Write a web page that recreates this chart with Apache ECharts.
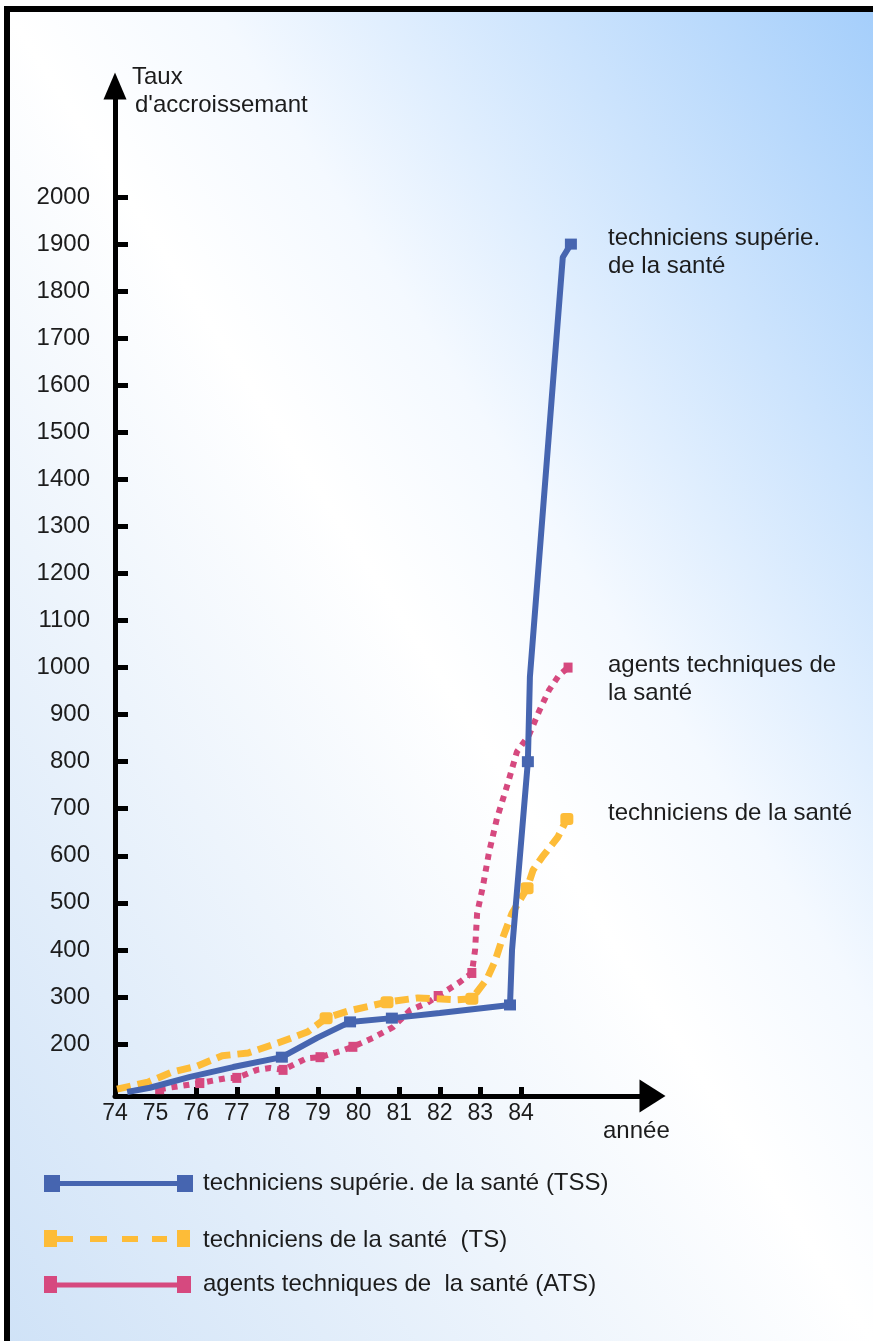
<!DOCTYPE html>
<html>
<head>
<meta charset="utf-8">
<script src="https://cdn.jsdelivr.net/npm/echarts@6/dist/echarts.min.js"></script>
<style>
  html, body { margin: 0; padding: 0; background: #ffffff; }
  #chart { width: 873px; height: 1341px; }
</style>
</head>
<body>
<div id="chart"></div>
<script>
// Axis labels
const yearLabels = [74, 75, 76, 77, 78, 79, 80, 81, 82, 83, 84];
const yearTicks = [76, 77, 78, 79, 80, 81, 82, 83, 84];
const rateTicks = [200, 300, 400, 500, 600, 700, 800, 900, 1000, 1100, 1200,
                   1300, 1400, 1500, 1600, 1700, 1800, 1900, 2000];

// Techniciens supérieurs de la santé (TSS)
const tssYears = [74.3, 74.86, 75.85, 76.91, 78.11, 78.98, 79.79, 80.82, 82.0, 83.73, 83.78, 84.17, 84.22, 85.03, 85.23];
const tssRates = [98, 107, 130, 151, 172, 213, 247, 255, 266, 283, 400, 800, 980, 1872, 1900];
const tssMarked = [4, 6, 7, 9, 11, 14];

// Techniciens de la santé (TS)
const tsYears = [74.05, 74.81, 75.4, 76.02, 76.64, 77.28, 78.01, 78.75, 79.2, 79.74, 80.7, 81.46, 82.42, 82.79, 83.16, 83.36, 83.53, 83.78, 84.15, 84.3, 84.52, 84.91, 85.13];
const tsRates = [104, 119, 140, 153, 175, 181, 202, 226, 255, 270, 289, 298, 294, 296, 338, 376, 421, 478, 531, 570, 597, 640, 678];
const tsMarked = [8, 10, 13, 18, 22];

// Agents techniques de la santé (ATS)
const atsYears = [75.1, 76.09, 76.78, 77.0, 77.5, 77.82, 78.14, 78.73, 79.05, 79.62, 79.86, 80.35, 80.85, 81.27, 81.68, 81.96, 82.5, 82.79, 82.87, 82.92, 83.06, 83.21, 83.41, 83.68, 83.9, 84.2, 84.44, 84.69, 84.94, 85.16];
const atsRates = [104, 117, 128, 128, 145, 149, 145, 170, 172, 187, 194, 213, 236, 272, 287, 302, 332, 351, 400, 478, 534, 606, 680, 755, 821, 857, 906, 952, 984, 1000];
const atsMarked = [0, 1, 3, 6, 8, 10, 15, 17, 29];

const FONT = "'Liberation Sans', Arial, sans-serif";
const INK = '#1c1c1c';
const BLUE = '#4665b0';
const YELLOW = '#fdbc38';
const PINK = '#d6497f';

function buildPoints(years, rates, marked, markSymbol, markSize) {
  return years.map((y, i) => {
    const item = { value: [y, rates[i]] };
    if (marked.indexOf(i) >= 0) {
      item.symbol = markSymbol;
      item.symbolSize = markSize;
    }
    return item;
  });
}

function label(text, x, y) {
  return {
    type: 'text', x: x, y: y, z: 10,
    style: { text: text, fill: INK, font: '24px ' + FONT, verticalAlign: 'middle', align: 'left' }
  };
}

const chart = echarts.init(document.getElementById('chart'), null, { renderer: 'canvas' });

const option = {
  animation: false,
  backgroundColor: new echarts.graphic.LinearGradient(-176.6, 1069.7, 1049.6, 271.3, [
    { offset: 0, color: '#cfe2f7' },
    { offset: 0.5, color: '#ffffff' },
    { offset: 0.62, color: '#f4f9ff' },
    { offset: 1, color: '#a4cefb' }
  ], true),
  grid: {
    left: 115, top: 86, width: 537.5, height: 1010,
    containLabel: false, outerBoundsMode: 'none'
  },
  xAxis: {
    type: 'value', min: 74, max: 87.24,
    axisLine: { show: true, symbol: ['none', 'triangle'], symbolSize: [33, 26],
                lineStyle: { color: '#000', width: 5 } },
    axisTick: { show: true, inside: true, length: 9, customValues: yearTicks,
                lineStyle: { color: '#000', width: 5 } },
    axisLabel: { customValues: yearLabels, margin: 6, color: INK, fontSize: 23, fontFamily: FONT,
                 formatter: v => String(v) },
    splitLine: { show: false }
  },
  yAxis: {
    type: 'value', min: 89.5, max: 2236,
    axisLine: { show: true, symbol: ['none', 'triangle'], symbolSize: [23, 27],
                lineStyle: { color: '#000', width: 5 } },
    axisTick: { show: true, inside: true, length: 13, customValues: rateTicks,
                lineStyle: { color: '#000', width: 5 } },
    axisLabel: { customValues: rateTicks, margin: 25, color: INK, fontSize: 24, fontFamily: FONT,
                 padding: [0, 0, 8, 0], formatter: v => String(v) },
    splitLine: { show: false }
  },
  series: [
    {
      name: 'techniciens supérie. de la santé (TSS)', type: 'line', z: 5,
      symbol: 'none', showSymbol: true,
      lineStyle: { color: BLUE, width: 6 }, itemStyle: { color: BLUE },
      data: buildPoints(tssYears, tssRates, tssMarked, 'rect', [12, 11])
    },
    {
      name: 'techniciens de la santé  (TS)', type: 'line', z: 4,
      symbol: 'none', showSymbol: true,
      lineStyle: { color: YELLOW, width: 7, type: [14, 7] }, itemStyle: { color: YELLOW },
      data: buildPoints(tsYears, tsRates, tsMarked, 'roundRect', [13, 12])
    },
    {
      name: 'agents techniques de  la santé (ATS)', type: 'line', z: 3,
      symbol: 'none', showSymbol: true,
      lineStyle: { color: PINK, width: 6, type: [6, 6] }, itemStyle: { color: PINK },
      data: buildPoints(atsYears, atsRates, atsMarked, 'rect', [9, 10])
    }
  ],
  graphic: [
    // frame
    { type: 'rect', shape: { x: 0, y: 0, width: 873, height: 6 }, style: { fill: '#ffffff' } },
    { type: 'rect', shape: { x: 0, y: 0, width: 4, height: 1341 }, style: { fill: '#ffffff' } },
    { type: 'rect', shape: { x: 4, y: 6, width: 869, height: 6 }, style: { fill: '#000000' } },
    { type: 'rect', shape: { x: 4, y: 6, width: 6, height: 1335 }, style: { fill: '#000000' } },

    // axis titles
    label('Taux', 132, 77),
    label("d'accroissemant", 135, 105),
    label('année', 603, 1131),

    // series captions
    label('techniciens supérie.', 608, 238),
    label('de la santé', 608, 266),
    label('agents techniques de', 608, 665),
    label('la santé', 608, 693),
    label('techniciens de la santé', 608, 813),

    // key
    { type: 'line', shape: { x1: 58, y1: 1183.5, x2: 179, y2: 1183.5 }, style: { stroke: BLUE, lineWidth: 5 } },
    { type: 'rect', shape: { x: 44, y: 1175, width: 16, height: 17 }, style: { fill: BLUE } },
    { type: 'rect', shape: { x: 177, y: 1175, width: 16, height: 17 }, style: { fill: BLUE } },
    label('techniciens supérie. de la santé (TSS)', 203, 1183),

    { type: 'rect', shape: { x: 44, y: 1230, width: 13, height: 17 }, style: { fill: YELLOW } },
    { type: 'rect', shape: { x: 56, y: 1236, width: 17, height: 6 }, style: { fill: YELLOW } },
    { type: 'rect', shape: { x: 90, y: 1236, width: 17, height: 6 }, style: { fill: YELLOW } },
    { type: 'rect', shape: { x: 122, y: 1236, width: 16, height: 6 }, style: { fill: YELLOW } },
    { type: 'rect', shape: { x: 152, y: 1236, width: 15, height: 6 }, style: { fill: YELLOW } },
    { type: 'rect', shape: { x: 177, y: 1230, width: 13, height: 17 }, style: { fill: YELLOW } },
    label('techniciens de la santé  (TS)', 203, 1240),

    { type: 'line', shape: { x1: 56, y1: 1285, x2: 179, y2: 1285 }, style: { stroke: PINK, lineWidth: 5 } },
    { type: 'rect', shape: { x: 44, y: 1276, width: 13, height: 17 }, style: { fill: PINK } },
    { type: 'rect', shape: { x: 177, y: 1276, width: 14, height: 17 }, style: { fill: PINK } },
    label('agents techniques de  la santé (ATS)', 203, 1284)
  ]
};

chart.setOption(option);
</script>
</body>
</html>
